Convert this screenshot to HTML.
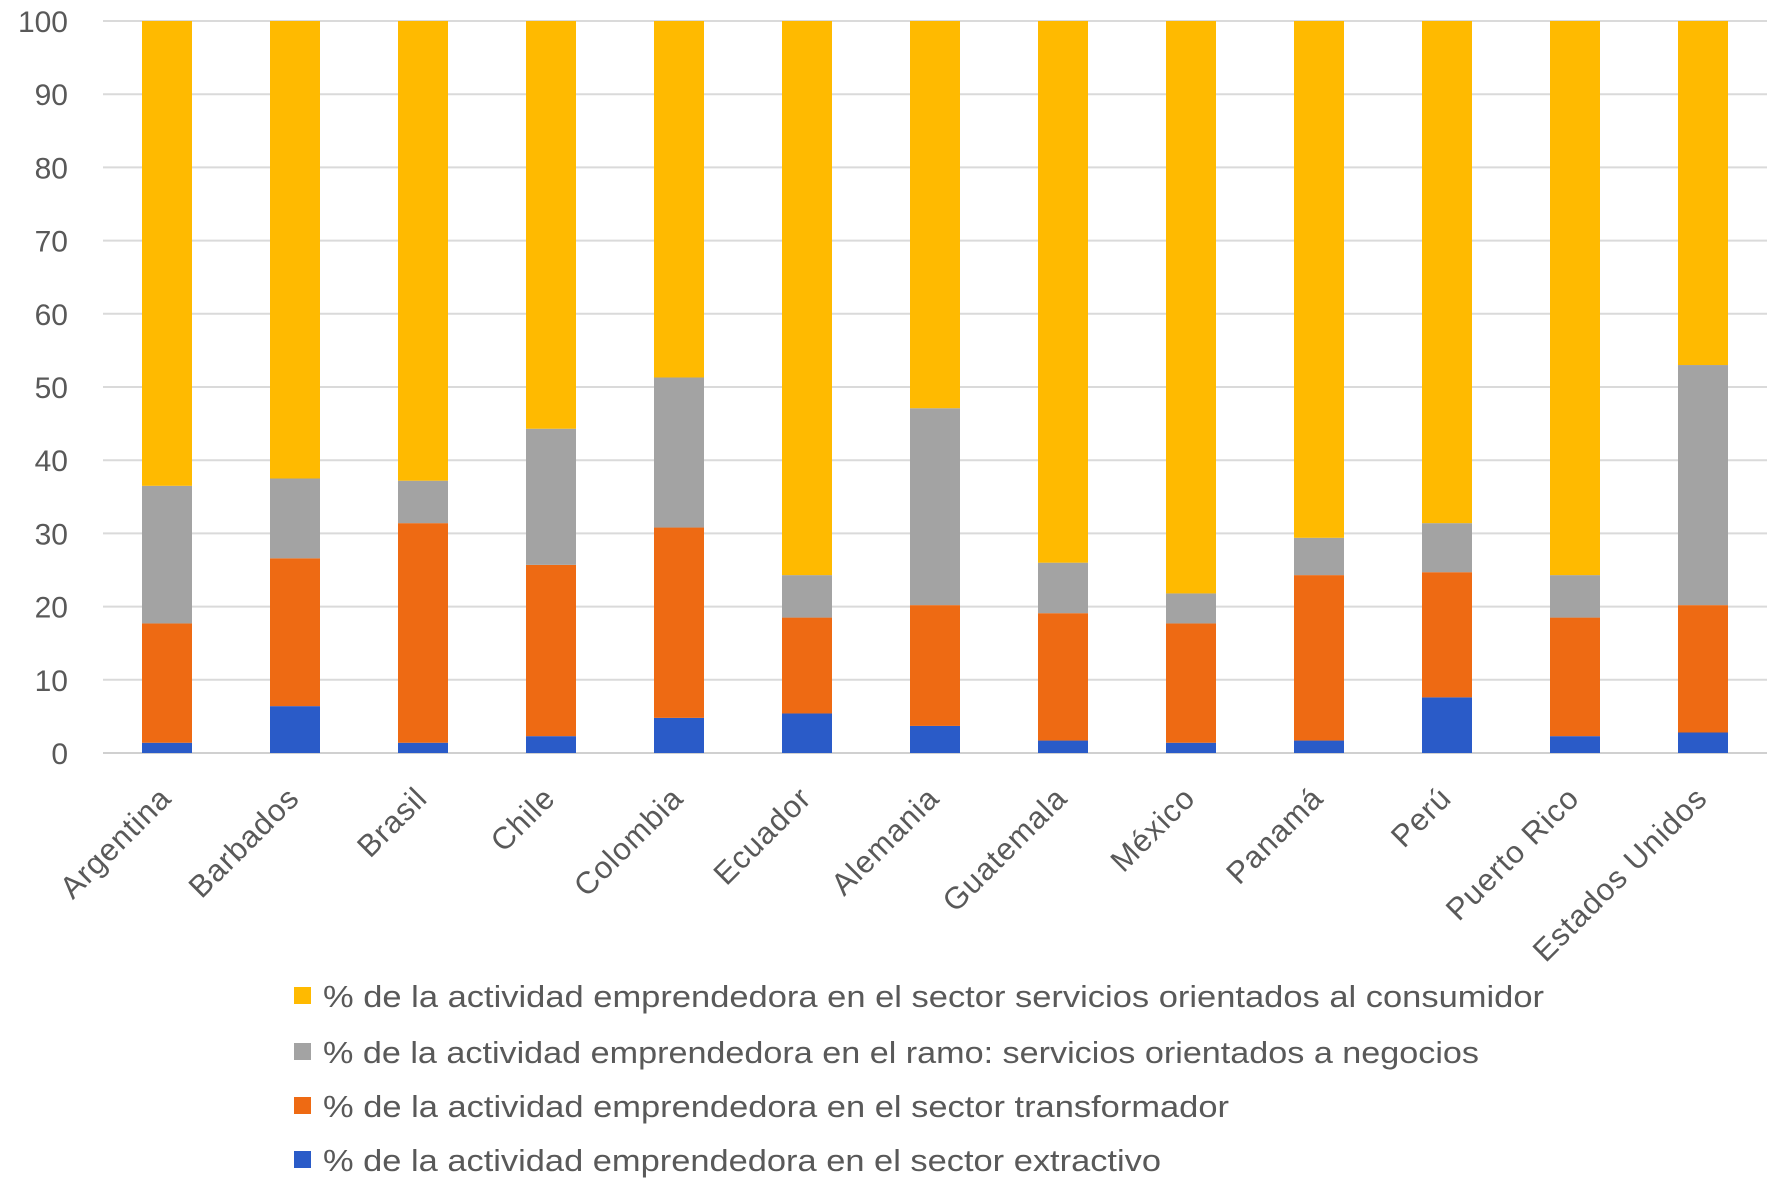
<!DOCTYPE html>
<html><head><meta charset="utf-8"><style>
html,body{margin:0;padding:0;background:#fff;}
svg{display:block;font-family:"Liberation Sans",sans-serif;}
</style></head><body>
<svg id="chart" width="1784" height="1189" viewBox="0 0 1784 1189">
<g id="grid"></g>
<g id="yticks"></g>
<g id="bars"></g>
<g id="xlabels"></g>
<g id="legend"></g>
</svg>
<script>
const categories = ["Argentina","Barbados","Brasil","Chile","Colombia","Ecuador","Alemania","Guatemala","México","Panamá","Perú","Puerto Rico","Estados Unidos"];
const extractivo = [1.4,6.4,1.4,2.3,4.8,5.4,3.7,1.7,1.4,1.7,7.6,2.3,2.8];
const transformador = [16.3,20.2,30.0,23.4,26.0,13.1,16.5,17.4,16.3,22.6,17.1,16.2,17.4];
const negocios = [18.8,10.9,5.8,18.6,20.5,5.8,26.9,6.9,4.1,5.1,6.7,5.8,32.8];
const consumidor = [63.5,62.5,62.8,55.7,48.7,75.7,52.9,74.0,78.2,70.6,68.6,75.7,47.0];
const yTicks = [0,10,20,30,40,50,60,70,80,90,100];
const seriesNames = ["%  de la actividad emprendedora en el sector servicios orientados al consumidor","% de la actividad emprendedora en el ramo: servicios orientados a negocios","% de la actividad emprendedora en el sector transformador","% de la actividad emprendedora en el sector extractivo"];

const NS="http://www.w3.org/2000/svg";
const X0=103,X1=1767,Y0=753,Y100=21;
const step=(X1-X0)/categories.length, barW=50;
function yScale(v){return Y0-(Y0-Y100)*v/100;}
function xCenter(i){return X0+step*(i+0.5);}
function mk(tag,attrs,parent){const e=document.createElementNS(NS,tag);for(const k in attrs)e.setAttribute(k,attrs[k]);parent.appendChild(e);return e;}
const grid=document.getElementById('grid'),yt=document.getElementById('yticks'),bars=document.getElementById('bars'),xl=document.getElementById('xlabels'),lg=document.getElementById('legend');
yTicks.forEach(t=>{
  const l=mk('line',{x1:X0,x2:X1,y1:yScale(t),y2:yScale(t),stroke:t===0?'#d0d0d0':'#dadada','stroke-width':2},grid);
  
  
  const tx=mk('text',{x:68,y:yScale(t)+11,'text-anchor':'end','font-size':30,fill:'#595959'},yt);
  tx.textContent=t;
  
  
});
const series=[extractivo,transformador,negocios,consumidor];
const colors=['#2A5BC8','#EE6A13','#A3A3A3','#FFBA00'];
const keys=['extractivo','transformador','negocios','consumidor'];
categories.forEach((c,i)=>{
  let base=0;
  series.forEach((s,k)=>{
    const v=s[i];
    const r=mk('rect',{x:xCenter(i)-barW/2,y:yScale(base+v),width:barW,height:yScale(base)-yScale(base+v),fill:colors[k]},bars);
    
    
    base+=v;
  });
  const cx=xCenter(i)+6, cy=800;
  const t=mk('text',{x:cx,y:cy,'text-anchor':'end','font-size':31,'letter-spacing':1,fill:'#595959',transform:'rotate(-45 '+cx+' '+cy+')'},xl);
  t.textContent=c;
  
  
});
const lgY=[996,1052,1106,1160];
const lgW=[1221,1156,906,838];
seriesNames.forEach((n,k)=>{
  const g=mk('g',{},lg);
  
  
  mk('rect',{x:294,y:lgY[k]-9,width:17,height:17,fill:colors[3-k]},g);
  const t=mk('text',{x:323,y:lgY[k]+11,'font-size':31,fill:'#595959',textLength:lgW[k],lengthAdjust:'spacingAndGlyphs'},g);
  t.textContent=n;
});
</script>
</body></html>
